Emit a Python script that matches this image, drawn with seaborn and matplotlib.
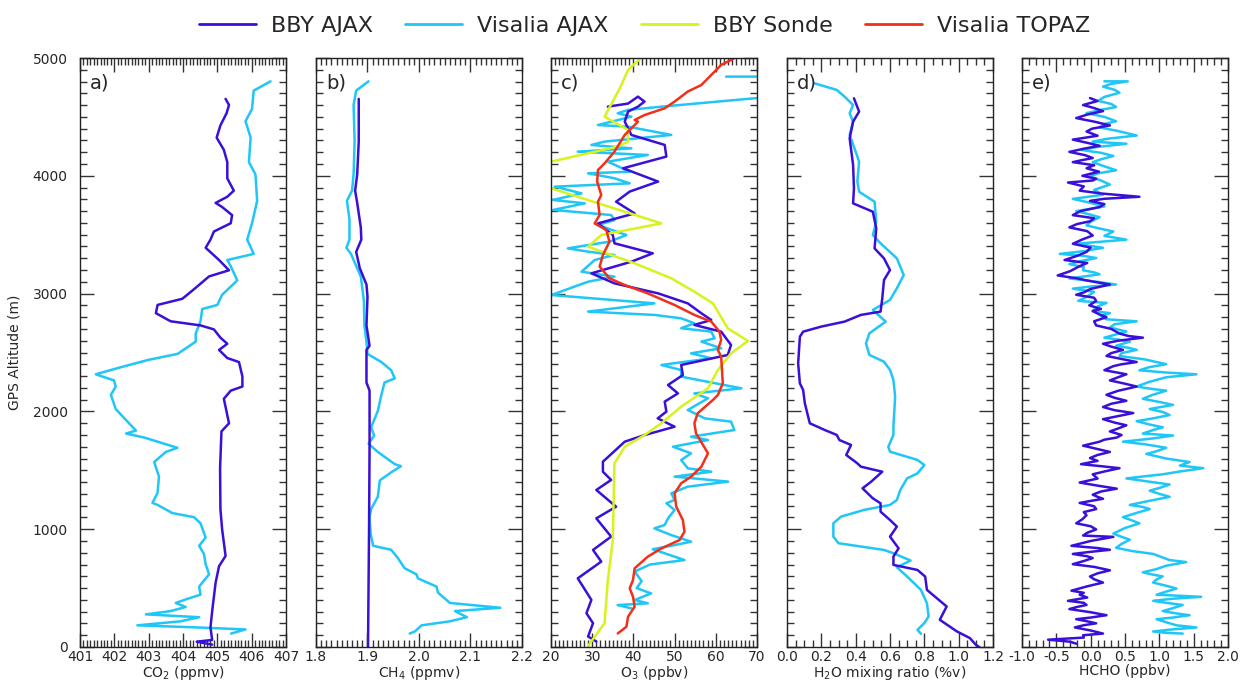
import matplotlib
matplotlib.use("Agg")
import matplotlib.pyplot as plt
from matplotlib.lines import Line2D
from matplotlib.ticker import MultipleLocator
import seaborn as sns

sns.set_theme(style="ticks")
plt.rcParams['font.family'] = ['DejaVu Sans']
plt.rcParams['axes.unicode_minus'] = False

# Colours
C_BBY = '#3a10d8'
C_VIS = '#1fc6f6'
C_SONDE = '#d8f21c'
C_TOPAZ = '#f2301a'

series_names = ['BBY AJAX', 'Visalia AJAX', 'BBY Sonde', 'Visalia TOPAZ']

# a) CO2 (ppmv)
co2_bby_alt = [20, 45, 60, 166, 305, 547, 686, 773, 998, 1171, 1518, 1830, 1899, 2107, 2176, 2211, 2297, 2419,
               2453, 2522, 2574, 2626, 2696, 2730, 2765, 2834, 2904, 2956, 3025, 3084, 3146, 3198, 3285, 3389,
               3458, 3527, 3597, 3666, 3735, 3770, 3822, 3874, 3978, 4116, 4220, 4324, 4428, 4532, 4601, 4653]
co2_bby = [404.85, 404.4, 404.85, 404.80, 404.85, 404.95, 405.05, 405.24, 405.14, 405.09, 405.08, 405.12, 405.34,
           405.19, 405.39, 405.73, 405.73, 405.63, 405.29, 405.05, 405.29, 405.09, 404.90, 404.51, 403.64, 403.21,
           403.26, 403.98, 404.27, 404.51, 404.76, 405.34, 405.05, 404.66, 404.80, 404.90, 405.39, 405.43, 405.14,
           404.95, 405.29, 405.48, 405.29, 405.29, 405.19, 404.98, 405.09, 405.27, 405.34, 405.24]
co2_vis_alt = [114, 149, 166, 184, 218, 253, 277, 305, 340, 374, 409, 444, 513, 617, 703, 790, 859, 929, 1050,
               1102, 1137, 1206, 1223, 1310, 1448, 1570, 1656, 1691, 1726, 1778, 1812, 1837, 1899, 2020, 2141,
               2211, 2263, 2315, 2367, 2436, 2488, 2592, 2661, 2765, 2869, 2904, 2990, 3112, 3233, 3285, 3337,
               3458, 3597, 3787, 4012, 4116, 4324, 4463, 4567, 4723, 4802]
co2_vis = [405.4, 405.82, 404.42, 402.67, 403.93, 404.47, 402.92, 403.64, 404.08, 403.79, 404.13, 404.51, 404.47,
           404.76, 404.66, 404.61, 404.47, 404.66, 404.51, 404.32, 403.69, 403.26, 403.11, 403.26, 403.30, 403.16,
           403.50, 403.84, 403.45, 402.87, 402.34, 402.63, 402.43, 402.04, 401.90, 402.04, 401.99, 401.46, 402.09,
           402.97, 403.84, 404.37, 404.37, 404.51, 404.56, 405.00, 405.14, 405.58, 405.39, 405.29, 406.06, 405.87,
           406.01, 406.16, 406.11, 405.92, 405.97, 405.82, 406.01, 406.06, 406.55]

# b) CH4 (ppmv)
ch4_bby_alt = [0, 998, 1691, 2176, 2245, 2522, 2557, 2730, 2973, 3077, 3216, 3354, 3458, 3562, 3770, 3874, 4012,
               4290, 4653]
ch4_bby = [1.901, 1.903, 1.904, 1.904, 1.898, 1.898, 1.904, 1.898, 1.900, 1.898, 1.885, 1.878, 1.888, 1.887, 1.880,
           1.876, 1.880, 1.883, 1.883]
ch4_vis_alt = [114, 132, 184, 218, 253, 305, 333, 374, 461, 513, 582, 617, 669, 755, 825, 859, 963, 1102, 1171,
               1275, 1414, 1483, 1535, 1552, 1656, 1726, 1795, 1865, 2003, 2141, 2245, 2280, 2349, 2419, 2488,
               2592, 2730, 2938, 3146, 3285, 3337, 3389, 3458, 3631, 3787, 3874, 4012, 4290, 4601, 4723, 4802]
ch4_vis = [1.982, 1.992, 2.005, 2.060, 2.093, 2.070, 2.158, 2.060, 2.037, 2.034, 1.998, 1.995, 1.972, 1.959, 1.946,
           1.911, 1.906, 1.904, 1.907, 1.920, 1.924, 1.946, 1.965, 1.953, 1.920, 1.902, 1.913, 1.907, 1.920, 1.927,
           1.933, 1.953, 1.946, 1.927, 1.900, 1.898, 1.894, 1.893, 1.887, 1.873, 1.868, 1.859, 1.865, 1.865, 1.860,
           1.870, 1.873, 1.875, 1.873, 1.878, 1.902]

# c) O3 (ppbv)
o3_bby_alt = [4587, 4613, 4672, 4630, 4587, 4545, 4460, 4347, 4262, 4163, 4064, 3951, 3866, 3780, 3681, 3596, 3497,
              3427, 3342, 3271, 3172, 3087, 3002, 2917, 2833, 2776, 2734, 2677, 2564, 2479, 2394, 2309, 2224, 2153,
              2083, 1998, 1941, 1870, 1799, 1743, 1573, 1488, 1418, 1333, 1191, 1092, 937, 824, 725, 583, 400, 287,
              202, 89, 47]
o3_bby = [33.8, 38.7, 41.1, 42.7, 41.1, 38.7, 37.9, 39.5, 47.6, 48.0, 37.5, 46.0, 39.1, 35.8, 40.3, 31.4, 35.0, 35.4,
          44.7, 39.5, 29.8, 35.4, 46.0, 53.2, 56.5, 58.9, 54.8, 61.3, 63.7, 62.9, 51.6, 52.0, 48.4, 50.8, 47.6, 48.0,
          45.9, 50.0, 42.7, 37.9, 32.6, 32.6, 34.6, 31.0, 35.8, 31.0, 34.6, 30.2, 32.2, 26.5, 29.8, 28.6, 30.2, 29.0,
          31.0]
o3_vis_alt = [4842, 4842, 4670, 4658, 4607, 4587, 4559, 4531, 4502, 4431, 4417, 4347, 4290, 4262, 4233, 4205, 4177,
              4120, 4035, 4021, 3979, 3936, 3908, 3851, 3795, 3766, 3710, 3667, 3624, 3582, 3497, 3441, 3384, 3356,
              3328, 3285, 3186, 3144, 3101, 2988, 2917, 2847, 2819, 2790, 2748, 2706, 2677, 2620, 2592, 2536, 2493,
              2451, 2394, 2351, 2295, 2196, 2153, 2111, 2012, 1941, 1913, 1842, 1785, 1757, 1700, 1644, 1587, 1517,
              1488, 1446, 1404, 1361, 1305, 1248, 1220, 1163, 1092, 1036, 1007, 950, 894, 865, 830, 738, 700, 640,
              560, 500, 455, 399, 371, 356, 328]
o3_vis = [62.5, 75, 75, 69.4, 53.2, 46.8, 38.7, 36.2, 39.5, 31.4, 38.7, 49.2, 33.0, 29.8, 39.5, 26.5, 43.5, 33.8,
          39.1, 29.0, 35.4, 39.1, 20.9, 27.4, 20.5, 28.2, 20.5, 34.6, 35.4, 31.4, 38.3, 34.2, 24.1, 29.0, 35.4, 30.6,
          27.4, 35.4, 29.0, 20.1, 45.1, 29.0, 45.1, 51.6, 54.8, 51.6, 58.9, 59.7, 56.5, 61.3, 54.0, 58.9, 46.8, 51.6,
          51.6, 66.2, 54.8, 58.1, 53.2, 57.3, 63.7, 64.5, 54.0, 58.1, 49.6, 54.0, 51.6, 53.2, 58.9, 50.0, 63.0, 53.2,
          49.2, 50.0, 48.0, 50.0, 48.4, 47.6, 45.1, 49.2, 54.0, 50.0, 44.7, 52.4, 44.0, 40.3, 42.0, 40.8, 44.3, 40.3,
          43.5, 36.2, 39.5]
o3_sonde_alt = [5000, 4898, 4743, 4502, 4389, 4290, 4248, 4120, 4070, 3940, 3894, 3596, 3497, 3398, 3257, 3130,
                3016, 2917, 2705, 2598, 2493, 2422, 2351, 2196, 2040, 1899, 1799, 1700, 1559, 908, 568, 202, 10]
o3_sonde = [41.8, 38.7, 36.7, 33.0, 38.7, 38.7, 36.2, 20.0, 12.0, 12.0, 20.0, 46.8, 32.2, 29.0, 40.3, 49.2, 54.8,
            59.3, 62.9, 67.8, 63.7, 62.1, 60.5, 58.1, 51.6, 46.8, 42.7, 37.9, 35.4, 35.0, 33.8, 33.0, 29.0]
o3_topaz_alt = [5020, 4983, 4941, 4856, 4771, 4715, 4630, 4573, 4516, 4474, 4460, 4417, 4347, 4205, 4106, 4049,
                3951, 3837, 3780, 3667, 3596, 3540, 3441, 3328, 3229, 3130, 3073, 3002, 2903, 2819, 2762, 2677,
                2606, 2521, 2465, 2238, 2139, 2097, 1984, 1899, 1814, 1644, 1531, 1446, 1390, 1305, 1191, 1078, 979,
                908, 837, 767, 668, 568, 498, 427, 342, 257, 172, 115]
o3_topaz = [65.5, 63.7, 61.3, 58.9, 56.5, 53.2, 50.0, 47.6, 42.7, 40.3, 41.1, 39.9, 37.9, 35.4, 33.0, 31.4, 31.2,
            32.2, 31.4, 31.8, 30.6, 33.4, 34.2, 32.6, 31.8, 34.2, 37.9, 43.5, 50.0, 54.8, 58.9, 60.9, 61.3, 60.5,
            61.3, 61.7, 60.5, 59.3, 55.6, 54.8, 55.2, 58.1, 56.5, 54.0, 51.6, 50.0, 50.4, 52.0, 52.4, 51.2, 46.8,
            43.5, 40.3, 39.9, 39.1, 39.9, 40.3, 38.7, 38.3, 36.2]

# d) H2O mixing ratio (%v)
h2o_bby_alt = [4658, 4545, 4460, 4318, 4092, 3894, 3766, 3695, 3554, 3384, 3299, 3200, 3115, 2960, 2847, 2819, 2762,
               2720, 2677, 2634, 2408, 2238, 2182, 2069, 1956, 1899, 1842, 1800, 1757, 1715, 1630, 1559, 1531, 1488,
               1403, 1347, 1262, 1220, 1149, 1078, 1022, 937, 838, 768, 697, 654, 598, 485, 344, 231, 132, 76, 19, 0]
h2o_bby = [0.39, 0.42, 0.385, 0.365, 0.385, 0.39, 0.385, 0.50, 0.52, 0.51, 0.565, 0.60, 0.565, 0.555, 0.545, 0.43,
           0.335, 0.20, 0.094, 0.075, 0.065, 0.075, 0.094, 0.104, 0.123, 0.133, 0.22, 0.29, 0.305, 0.373, 0.345,
           0.41, 0.43, 0.555, 0.49, 0.44, 0.50, 0.545, 0.545, 0.60, 0.64, 0.60, 0.65, 0.62, 0.62, 0.76, 0.805, 0.815,
           0.93, 0.89, 0.99, 1.065, 1.10, 1.12]
h2o_vis_alt = [4785, 4729, 4672, 4601, 4531, 4460, 4347, 4205, 4120, 3950, 3865, 3780, 3610, 3497, 3427, 3299, 3158,
               3045, 2946, 2861, 2762, 2663, 2578, 2479, 2422, 2352, 2267, 2125, 1871, 1800, 1700, 1658, 1588, 1545,
               1474, 1432, 1333, 1248, 1206, 1164, 1107, 1050, 937, 881, 824, 796, 734, 677, 598, 485, 372, 259, 203,
               146, 112]
h2o_vis = [0.16, 0.29, 0.335, 0.385, 0.365, 0.385, 0.365, 0.40, 0.42, 0.41, 0.42, 0.51, 0.52, 0.50, 0.545, 0.64,
           0.68, 0.64, 0.60, 0.50, 0.575, 0.48, 0.46, 0.48, 0.565, 0.60, 0.62, 0.63, 0.62, 0.62, 0.59, 0.60, 0.76,
           0.80, 0.76, 0.70, 0.66, 0.64, 0.60, 0.45, 0.315, 0.27, 0.27, 0.30, 0.565, 0.62, 0.72, 0.64, 0.70, 0.78,
           0.815, 0.825, 0.80, 0.76, 0.78]

# e) HCHO (ppbv)
hcho_bby_alt = [4660, 4635, 4601, 4575, 4549, 4520, 4490, 4460, 4428, 4400, 4376, 4340, 4307, 4280, 4255, 4230,
                4203, 4175, 4151, 4130, 4116, 4090, 4064, 4035, 4000, 3975, 3960, 3943, 3910, 3874, 3850, 3822,
                3805, 3787, 3760, 3735, 3700, 3666, 3640, 3614, 3590, 3562, 3530, 3493, 3460, 3423, 3390, 3354,
                3320, 3285, 3260, 3233, 3190, 3154, 3130, 3112, 3095, 3077, 3040, 3010, 2990, 2965, 2938, 2900,
                2870, 2852, 2825, 2800, 2765, 2730, 2700, 2661, 2640, 2626, 2600, 2574, 2550, 2522, 2495, 2471,
                2445, 2419, 2400, 2384, 2350, 2315, 2290, 2263, 2235, 2211, 2175, 2141, 2115, 2090, 2065, 2037,
                2010, 1986, 1960, 1934, 1905, 1882, 1855, 1830, 1800, 1778, 1760, 1743, 1725, 1709, 1680, 1656,
                1630, 1604, 1580, 1552, 1535, 1518, 1490, 1466, 1430, 1396, 1370, 1344, 1320, 1293, 1275, 1258,
                1240, 1223, 1195, 1171, 1145, 1119, 1085, 1050, 1025, 998, 970, 946, 935, 900, 859, 840,
                825, 808, 790, 770, 755, 730, 703, 680, 651, 625, 599, 575, 547, 515, 478, 460,
                444, 420, 392, 375, 357, 340, 322, 295, 270, 250, 236, 218, 201, 185, 166, 140,
                114, 100, 80, 62, 45, 28]
hcho_bby = [-0.01, 0.10, -0.11, 0.05, 0.18, -0.05, -0.21, 0.05, 0.28, 0.02, -0.06, 0.10, -0.26, -0.05, 0.13, -0.10,
            -0.31, -0.08, 0.03, -0.15, -0.26, 0.05, -0.06, 0.12, -0.12, 0.08, 0.03, -0.33, -0.10, -0.16, 0.15, 0.71,
            0.20, -0.01, 0.20, 0.13, -0.15, -0.26, 0.05, -0.01, -0.20, -0.31, -0.05, 0.03, -0.12, -0.26, 0.00, -0.06,
            -0.20, -0.38, -0.05, -0.16, -0.30, -0.48, -0.20, -0.06, 0.10, 0.28, 0.00, -0.10, -0.21, 0.05, 0.08, -0.02,
            0.15, 0.03, 0.12, 0.23, 0.05, 0.08, 0.30, 0.42, 0.55, 0.76, 0.40, 0.18, 0.30, 0.47, 0.30, 0.23,
            0.45, 0.67, 0.45, 0.33, 0.20, 0.52, 0.40, 0.28, 0.50, 0.67, 0.40, 0.23, 0.35, 0.52, 0.30, 0.18,
            0.35, 0.62, 0.40, 0.18, 0.35, 0.52, 0.40, 0.28, 0.45, 0.38, 0.20, 0.13, 0.00, -0.11, 0.10, 0.28,
            0.10, -0.01, 0.10, -0.14, 0.15, 0.42, 0.20, 0.03, 0.10, -0.16, 0.10, 0.38, 0.15, 0.03, 0.10, 0.18,
            0.00, -0.16, 0.05, 0.08, -0.10, -0.06, -0.12, -0.21, 0.00, 0.08, -0.05, -0.11, 0.33, 0.00, -0.28, 0.10,
            0.28, 0.00, -0.26, -0.05, 0.03, -0.10, -0.26, 0.05, 0.28, 0.10, -0.01, 0.05, 0.18, -0.05, -0.28, -0.10,
            -0.16, -0.05, -0.33, -0.10, -0.06, -0.20, -0.31, 0.00, 0.23, 0.00, -0.21, -0.05, 0.08, -0.10, -0.23, 0.00,
            0.18, -0.11, -0.10, -0.62, -0.30, -0.21]
hcho_vis_alt = [4802, 4802, 4780, 4757, 4730, 4705, 4670, 4636, 4610, 4584, 4560, 4532, 4500, 4463, 4440, 4411,
                4380, 4342, 4315, 4290, 4272, 4245, 4220, 4195, 4168, 4140, 4116, 4080, 4047, 4020, 3995, 3960,
                3926, 3880, 3839, 3804, 3770, 3740, 3700, 3670, 3648, 3610, 3579, 3550, 3527, 3490, 3458, 3423,
                3400, 3389, 3360, 3337, 3320, 3302, 3275, 3250, 3225, 3198, 3180, 3164, 3145, 3129, 3100, 3077,
                3060, 3042, 3015, 2990, 2960, 2938, 2921, 2890, 2852, 2834, 2810, 2782, 2765, 2740, 2713, 2678,
                2650, 2626, 2610, 2592, 2557, 2540, 2522, 2495, 2471, 2440, 2420, 2401, 2375, 2349, 2330, 2315,
                2290, 2250, 2211, 2190, 2176, 2140, 2107, 2080, 2055, 2035, 2020, 1995, 1969, 1940, 1917, 1890,
                1865, 1840, 1812, 1795, 1770, 1743, 1720, 1691, 1660, 1639, 1600, 1570, 1540, 1518, 1490, 1466,
                1450, 1431, 1400, 1379, 1350, 1327, 1300, 1275, 1240, 1206, 1190, 1171, 1135, 1102, 1075, 1050,
                1010, 963, 935, 911, 875, 842, 815, 790, 760, 738, 721, 690, 660, 634, 615, 599,
                570, 547, 520, 496, 470, 444, 426, 410, 392, 375, 357, 330, 305, 285, 270, 250,
                236, 210, 184, 175, 166, 150, 132, 120, 114]
hcho_vis = [0.20, 0.54, 0.30, 0.18, 0.35, 0.42, 0.20, 0.11, 0.30, 0.37, 0.15, -0.06, 0.20, 0.37, 0.20, 0.13,
            0.40, 0.67, 0.25, 0.03, 0.52, 0.10, -0.14, 0.15, 0.33, 0.15, 0.03, 0.20, 0.37, 0.10, -0.01, 0.15,
            0.28, 0.05, 0.18, -0.26, 0.00, 0.20, -0.21, 0.00, 0.13, 0.00, -0.06, 0.15, 0.33, 0.20, 0.52, -0.21,
            0.05, 0.18, -0.10, -0.45, -0.10, 0.08, -0.15, -0.31, -0.10, -0.11, 0.05, 0.13, -0.10, -0.31, 0.10, 0.37,
            0.00, -0.26, 0.05, -0.01, -0.10, -0.18, 0.23, 0.10, 0.03, 0.28, 0.15, 0.23, 0.67, 0.35, 0.28, 0.52,
            0.35, 0.20, 0.40, 0.57, 0.37, 0.55, 0.67, 0.45, 0.42, 0.80, 0.95, 1.10, 0.85, 0.71, 1.10, 1.54,
            1.10, 0.85, 0.67, 0.90, 1.10, 0.90, 0.76, 1.00, 1.20, 1.00, 0.86, 1.05, 1.15, 0.90, 0.67, 0.85,
            1.05, 0.90, 0.76, 1.20, 0.90, 0.47, 0.80, 1.10, 0.95, 0.81, 1.10, 1.44, 1.30, 1.64, 1.30, 1.05,
            0.80, 0.52, 0.90, 1.15, 1.00, 0.86, 1.00, 1.15, 0.85, 0.57, 0.75, 0.86, 0.65, 0.47, 0.60, 0.71,
            0.50, 0.33, 0.45, 0.57, 0.45, 0.37, 0.60, 0.91, 1.05, 1.15, 1.39, 1.10, 0.95, 0.76, 0.90, 1.05,
            0.95, 0.91, 1.10, 1.25, 1.10, 0.96, 1.61, 1.20, 0.91, 1.10, 1.34, 1.20, 1.05, 1.25, 1.44, 1.20,
            0.96, 1.10, 1.25, 1.40, 1.54, 1.20, 0.91, 1.10, 1.34]

panels = [
    dict(tag='a)', xlim=(401, 407), major=1, minor=0.1, xlabel='CO$_2$ (ppmv)',
         lines=[(co2_vis, co2_vis_alt, C_VIS), (co2_bby, co2_bby_alt, C_BBY)]),
    dict(tag='b)', xlim=(1.8, 2.2), major=0.1, minor=0.01, xlabel='CH$_4$ (ppmv)',
         lines=[(ch4_vis, ch4_vis_alt, C_VIS), (ch4_bby, ch4_bby_alt, C_BBY)]),
    dict(tag='c)', xlim=(20, 70), major=10, minor=1, xlabel='O$_3$ (ppbv)',
         lines=[(o3_vis, o3_vis_alt, C_VIS), (o3_bby, o3_bby_alt, C_BBY),
                (o3_sonde, o3_sonde_alt, C_SONDE), (o3_topaz, o3_topaz_alt, C_TOPAZ)]),
    dict(tag='d)', xlim=(0, 1.2), major=0.2, minor=0.05, xlabel='H$_2$O mixing ratio (%v)',
         lines=[(h2o_vis, h2o_vis_alt, C_VIS), (h2o_bby, h2o_bby_alt, C_BBY)]),
    dict(tag='e)', xlim=(-1, 2), major=0.5, minor=0.1, xlabel='HCHO (ppbv)',
         lines=[(hcho_vis, hcho_vis_alt, C_VIS), (hcho_bby, hcho_bby_alt, C_BBY)]),
]

W, H = 1242, 682
fig = plt.figure(figsize=(W / 100, H / 100), dpi=100)
lefts = [80, 316, 551, 787, 1022]

for i, (p, left) in enumerate(zip(panels, lefts)):
    ax = fig.add_axes([left / W, 35 / H, 206 / W, 589 / H])
    for vals, alt, color in p['lines']:
        sns.lineplot(x=vals, y=alt, sort=False, estimator=None, color=color, lw=1.8, ax=ax)
    ax.set_xlim(*p['xlim'])
    ax.set_ylim(0, 5000)
    ax.xaxis.set_major_locator(MultipleLocator(p['major']))
    ax.xaxis.set_minor_locator(MultipleLocator(p['minor']))
    ax.yaxis.set_major_locator(MultipleLocator(1000))
    ax.yaxis.set_minor_locator(MultipleLocator(100))
    ax.tick_params(which='both', direction='in', top=True, right=True, width=1, color='#333333',
                   labelsize=10, pad=2)
    ax.tick_params(axis='y', which='both', pad=9)
    ax.tick_params(which='major', length=10)
    ax.tick_params(which='minor', length=4.7)
    # tick label text, hyphen minus as in the original
    fmt = '{:.0f}' if p['major'] >= 1 else '{:.1f}'
    ticks = [t for t in ax.get_xticks() if p['xlim'][0] - 1e-9 <= t <= p['xlim'][1] + 1e-9]
    ax.set_xticks(ticks)
    ax.set_xticklabels([fmt.format(t) for t in ticks])
    for s in ax.spines.values():
        s.set_linewidth(1)
        s.set_color('#222222')
    ax.set_xlabel(p['xlabel'], fontsize=10, labelpad=0)
    if i == 0:
        ax.set_ylabel('GPS Altitude (m)', fontsize=10, labelpad=8)
    else:
        ax.tick_params(labelleft=False)
        ax.set_ylabel('')
    ax.text(0.05, 0.957, p['tag'], transform=ax.transAxes, fontsize=14, va='center', ha='left')

handles = [Line2D([], [], color=c, lw=2) for c in [C_BBY, C_VIS, C_SONDE, C_TOPAZ]]
fig.legend(handles, series_names, loc='center', bbox_to_anchor=(0.519, 0.962), ncol=4, frameon=False,
           prop=dict(family='DejaVu Sans', size=16),
           handlelength=2.57, handletextpad=0.68, columnspacing=1.44)

fig.savefig('out.png', dpi=100)
